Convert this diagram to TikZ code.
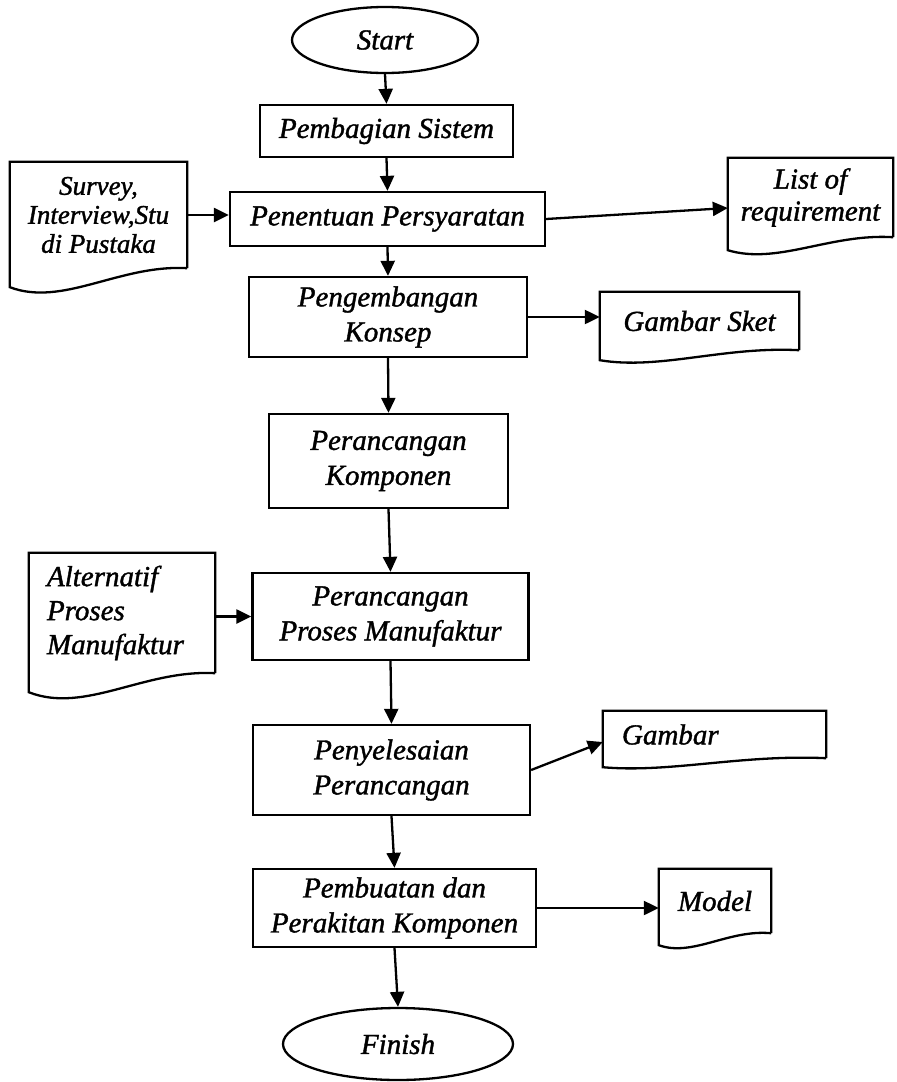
\documentclass[tikz,border=0pt]{standalone}
\usepackage{fontspec}
\setmainfont{Liberation Serif}[ItalicFeatures={FakeBold=1.3}]
\usetikzlibrary{arrows.meta,calc,shapes.geometric}
\tikzset{
  base/.style={font=\fontsize{29}{35}\selectfont\itshape, inner sep=0pt, align=center},
  box/.style={base, draw, line width=2.3pt, rectangle},
  term/.style={base, draw, line width=2.3pt, ellipse},
  docnode/.style={base},
  shapeline/.style={line width=2.3pt, line join=miter},
  arr/.style={line width=2.3pt, -{Triangle[length=15pt,width=14pt]}},
}
% #1 node name, #2 extra drop of the left bottom corner, #3 dip of the wave
\newcommand\docshape[3]{%
  \draw[shapeline] (#1.south east) -- (#1.north east) -- (#1.north west) -- ([yshift={-#2}]#1.south west)
    .. controls ($(#1.south west)!0.3!(#1.south east)+(0,{#2+#3})$) and ($(#1.south west)!0.62!(#1.south east)+(0,-4)$) .. (#1.south east);
}
\begin{document}
\begin{tikzpicture}[x=1pt,y=-1pt]
\fill[white] (0,0) rectangle (897,1082);
\useasboundingbox (0,0) rectangle (897,1082);

% main flow
\node[term, minimum width=186pt, minimum height=66pt] (start) at (385,40) {Start};
\node[box, minimum width=253pt, minimum height=52pt] (pemb) at (386.5,131) {Pembagian Sistem};
\node[box, minimum width=315pt, minimum height=54pt] (pen) at (387.5,219) {Penentuan Persyaratan};
\node[box, minimum width=278pt, minimum height=80pt] (peng) at (388,317) {Pengembangan\\Konsep};
\node[box, minimum width=239pt, minimum height=94pt] (pk) at (388.5,461) {Perancangan\\Komponen};
\node[box, minimum width=276pt, minimum height=87pt] (prosman) at (390.5,616.5) {Perancangan\\Proses Manufaktur};
\node[box, minimum width=277pt, minimum height=90pt] (peny) at (391.5,770) {Penyelesaian\\Perancangan};
\node[box, minimum width=283pt, minimum height=78pt] (pembuatan) at (394.5,908) {Pembuatan dan\\Perakitan Komponen};
\node[term, minimum width=230pt, minimum height=72pt] (finish) at (398,1044) {Finish};

% documents
\node[docnode, font=\fontsize{27}{29}\selectfont\itshape, minimum width=177pt, minimum height=106pt] (survey) at (98.5,215) {Survey,\\Interview,Stu\\di Pustaka};
\docshape{survey}{19}{20}
\node[docnode, font=\fontsize{29}{32}\selectfont\itshape, minimum width=165pt, minimum height=79pt] (list) at (810.5,197.5) {List of\\requirement};
\docshape{list}{13}{15}
\node[docnode, minimum width=199pt, minimum height=58pt] (sket) at (699.5,321) {Gambar Sket};
\docshape{sket}{10}{10}
\node[docnode, font=\fontsize{29}{34}\selectfont\itshape, align=left, text width=150pt, inner xsep=18pt, minimum height=120pt] (alt) at (122,613) {Alternatif\\Proses\\Manufaktur};
\docshape{alt}{19}{22}
\node[docnode, align=left, text width=185pt, inner xsep=19pt, minimum height=47pt] (gambar) at (714.5,734.5) {Gambar};
\docshape{gambar}{9}{6}
\node[docnode, minimum width=112pt, minimum height=64pt] (model) at (715,901) {Model};
\docshape{model}{12}{12}

% connectors
\draw[arr] (start.south) -- (pemb.north);
\draw[arr] (pemb.south) -- (pen.north);
\draw[arr] (survey.east) -- (survey.east -| pen.west);
\draw[arr] (pen.east) -- ([yshift=-10.5pt]list.west);
\draw[arr] (pen.south) -- (peng.north);
\draw[arr] (peng.east) -- (peng.east -| sket.west);
\draw[arr] (peng.south) -- (pk.north);
\draw[arr] (pk.south) -- (prosman.north);
\draw[arr] (alt.east |- prosman.west) -- (prosman.west);
\draw[arr] (prosman.south) -- (peny.north);
\draw[arr] (peny.east) -- ([yshift=-7.5pt]gambar.west);
\draw[arr] (peny.south) -- (pembuatan.north);
\draw[arr] (pembuatan.east) -- (pembuatan.east -| model.west);
\draw[arr] (pembuatan.south) -- (finish.north);
\end{tikzpicture}
\end{document}
